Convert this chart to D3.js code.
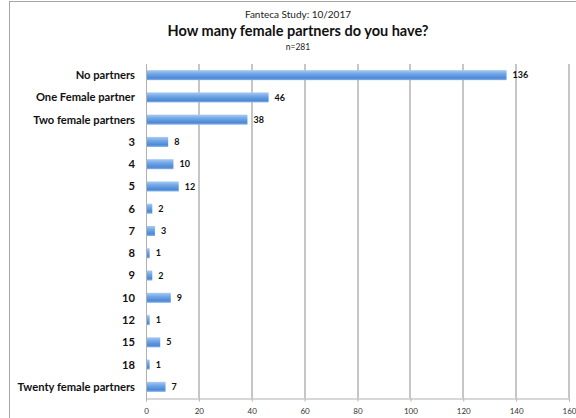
<!DOCTYPE html>
<html>
<head>
<meta charset="utf-8">
<script src="https://cdn.jsdelivr.net/npm/d3@7"></script>
<style>
  html, body { margin: 0; padding: 0; background: #fff; }
  svg { display: block; }
  text { font-family: Lato, "Open Sans", "Liberation Sans", sans-serif; }
</style>
</head>
<body>
<svg id="chart" width="576" height="418"></svg>
<script>
// Answers to "How many female partners do you have?" (n=281)
const categories = [
  "No partners", "One Female partner", "Two female partners",
  "3", "4", "5", "6", "7", "8", "9", "10", "12", "15", "18",
  "Twenty female partners"
];
const counts = [136, 46, 38, 8, 10, 12, 2, 3, 1, 2, 9, 1, 5, 1, 7];
const xTicks = [0, 20, 40, 60, 80, 100, 120, 140, 160];

const svg = d3.select("#chart");
const plot = { left: 146, right: 569, top: 64, bottom: 398 };

// frame around the chart
svg.append("rect")
  .attr("x", 9.5).attr("y", 1.5)
  .attr("width", 600).attr("height", 430)
  .attr("fill", "none").attr("stroke", "#a6a6a6").attr("stroke-width", 1);

// titles
const cx = 298;
svg.append("text").attr("x", cx).attr("y", 18)
  .attr("text-anchor", "middle").attr("font-size", 10).attr("fill", "#222")
  .text("Fanteca Study: 10/2017");
svg.append("text").attr("x", cx).attr("y", 36)
  .attr("text-anchor", "middle").attr("font-size", 14.5).attr("font-weight", "bold").attr("fill", "#111")
  .text("How many female partners do you have?");
svg.append("text").attr("x", cx).attr("y", 50)
  .attr("text-anchor", "middle").attr("font-size", 8.5).attr("fill", "#222")
  .text("n=281");

const x = d3.scaleLinear().domain([0, 160]).range([plot.left, plot.right]);
const y = d3.scaleBand().domain(categories).range([plot.top, plot.bottom]).paddingInner(0.55).paddingOuter(0.275);

// gradient for bars
const defs = svg.append("defs");
const grad = defs.append("linearGradient").attr("id", "barGrad")
  .attr("x1", 0).attr("y1", 0).attr("x2", 0).attr("y2", 1);
grad.append("stop").attr("offset", "0%").attr("stop-color", "#a9cbf2");
grad.append("stop").attr("offset", "35%").attr("stop-color", "#74a9e8");
grad.append("stop").attr("offset", "80%").attr("stop-color", "#4d88d6");
grad.append("stop").attr("offset", "100%").attr("stop-color", "#86b4ea");

// vertical gridlines (slightly soft, as in the printed chart)
svg.append("g").attr("class", "grid")
  .selectAll("line")
  .data(xTicks.slice(1))
  .join("line")
  .attr("x1", d => Math.round(x(d))).attr("x2", d => Math.round(x(d)))
  .attr("y1", plot.top).attr("y2", plot.bottom)
  .attr("stroke", "#a0a0a0").attr("stroke-width", 1.2);

// x axis
const xAxis = svg.append("g")
  .attr("transform", `translate(0,${plot.bottom + 0.5})`)
  .call(d3.axisBottom(x).tickValues(xTicks).tickSize(3).tickPadding(7).tickFormat(d3.format("d")));
xAxis.select(".domain").attr("stroke", "#b0b0b0");
xAxis.selectAll(".tick line").attr("stroke", "#b0b0b0");
xAxis.selectAll("text").attr("font-size", 8).attr("fill", "#333")
  .style("font-family", "Lato, 'Open Sans', sans-serif");

// y axis line
svg.append("rect")
  .attr("x", plot.left).attr("y", plot.top)
  .attr("width", 1).attr("height", plot.bottom - plot.top + 3)
  .attr("fill", "#b0b0b0");

// category labels
svg.append("g")
  .selectAll("text")
  .data(categories)
  .join("text")
  .attr("x", plot.left - 11)
  .attr("y", d => y(d) + y.bandwidth() / 2)
  .attr("dy", "0.35em")
  .attr("text-anchor", "end")
  .attr("font-size", 11.2).attr("font-weight", "bold").attr("fill", "#111")
  .text(d => d);

// bars
svg.append("g")
  .selectAll("rect")
  .data(categories.map((c, i) => ({ c, v: counts[i] })))
  .join("rect")
  .attr("x", plot.left + 1)
  .attr("y", d => y(d.c))
  .attr("width", d => x(d.v) - plot.left)
  .attr("height", y.bandwidth())
  .attr("fill", "url(#barGrad)");

// value labels
svg.append("g")
  .selectAll("text")
  .data(categories.map((c, i) => ({ c, v: counts[i] })))
  .join("text")
  .attr("x", d => x(d.v) + 7)
  .attr("y", d => y(d.c) + y.bandwidth() / 2)
  .attr("dy", "0.35em")
  .attr("font-size", 9).attr("font-weight", "bold").attr("fill", "#111")
  .text(d => d.v);
</script>
</body>
</html>
